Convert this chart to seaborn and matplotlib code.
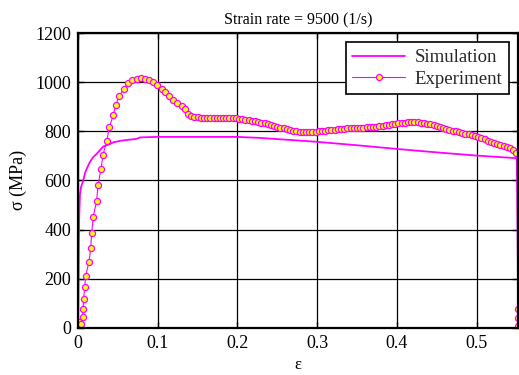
import matplotlib
matplotlib.use("Agg")
import matplotlib.pyplot as plt
import seaborn as sns
import pandas as pd

# ---- data ----
sim_strain = [0.0, 0.0005, 0.001, 0.0015, 0.0025, 0.004, 0.0067, 0.0088, 0.012, 0.015,
              0.0192, 0.0234, 0.0317, 0.040, 0.0443, 0.055, 0.0736, 0.078, 0.099, 0.15,
              0.2, 0.228, 0.2995, 0.35, 0.4, 0.45, 0.5, 0.552]
sim_stress = [0, 150, 350, 450, 545, 575, 600, 630, 655, 675,
              695, 708, 738, 748, 755, 762, 769, 775, 777, 777,
              777, 773, 757, 743, 728, 714, 701, 690]

exp_strain = [0.000, 0.001, 0.001, 0.002, 0.0038, 0.0059, 0.0062, 0.0071, 0.0084, 0.0096,
              0.0138, 0.0159, 0.0172, 0.0192, 0.0234, 0.0251, 0.0289, 0.0314, 0.036, 0.0393,
              0.0443, 0.0473, 0.0518, 0.0573, 0.0624, 0.0678, 0.0736, 0.079, 0.0845, 0.0895,
              0.0945, 0.0995, 0.105, 0.1095, 0.1146, 0.1196, 0.1246, 0.130, 0.1346,
              0.138, 0.142, 0.146, 0.150, 0.154, 0.158, 0.162, 0.166, 0.170, 0.174,
              0.178, 0.182, 0.186, 0.190, 0.194, 0.198, 0.202, 0.206, 0.210, 0.214,
              0.218, 0.222, 0.226, 0.230, 0.234, 0.238, 0.242, 0.246, 0.250, 0.254,
              0.258, 0.262, 0.266, 0.270, 0.274, 0.278, 0.282, 0.286, 0.290, 0.294,
              0.298, 0.302, 0.306, 0.310, 0.314, 0.318, 0.322, 0.326, 0.330, 0.334,
              0.338, 0.342, 0.346, 0.350, 0.354, 0.358, 0.362, 0.366, 0.370, 0.374,
              0.378, 0.382, 0.386, 0.390, 0.394, 0.398, 0.402, 0.406, 0.410, 0.414,
              0.418, 0.422, 0.426, 0.430, 0.434, 0.438, 0.442, 0.446, 0.450, 0.454,
              0.458, 0.462, 0.466, 0.470, 0.474, 0.478, 0.482, 0.486, 0.490, 0.494,
              0.498, 0.502, 0.506, 0.510, 0.514, 0.518, 0.522, 0.526, 0.530, 0.534,
              0.538, 0.542, 0.546, 0.550, 0.552, 0.552, 0.552]
exp_stress = [5, 15, 25, 10, 14, 45, 76, 118, 165, 211,
              269, 323, 387, 452, 518, 580, 648, 705, 760, 817,
              866, 907, 945, 971, 995, 1008, 1014, 1016, 1014, 1009,
              999, 987, 974, 959, 944, 929, 915, 902, 890,
              871, 864, 859, 856, 854, 853, 852, 852, 852, 852,
              852, 852, 852, 852, 852, 852, 851, 849, 847, 845,
              843, 840, 838, 835, 832, 829, 826, 822, 818, 815,
              812, 809, 806, 803, 800, 798, 797, 796, 795, 796,
              797, 799, 800, 802, 804, 805, 807, 808, 810, 811,
              812, 812, 813, 813, 814, 815, 816, 817, 818, 819,
              821, 823, 825, 827, 829, 831, 832, 834, 835, 836,
              836, 836, 836, 835, 833, 831, 829, 826, 823, 819,
              815, 810, 806, 802, 799, 796, 793, 790, 787, 783,
              779, 775, 771, 767, 762, 758, 753, 748, 744, 739,
              734, 730, 722, 712, 75, 41, 7]

x_ticks = [0, 0.1, 0.2, 0.3, 0.4, 0.5]
x_tick_labels = ["0", "0.1", "0.2", "0.3", "0.4", "0.5"]
y_ticks = [0, 200, 400, 600, 800, 1000, 1200]

sim_df = pd.DataFrame({"strain": sim_strain, "stress": sim_stress})
exp_df = pd.DataFrame({"strain": exp_strain, "stress": exp_stress})

sns.set_theme(style="white")
plt.rcParams["font.family"] = ["Liberation Serif", "DejaVu Serif"]
plt.rcParams["mathtext.fontset"] = "stix"

fig = plt.figure(figsize=(5.19, 3.75), dpi=100)
ax = fig.add_axes([0.1503, 0.126, 0.8478, 0.786])

sns.lineplot(data=sim_df, x="strain", y="stress", sort=False, estimator=None,
             color="#ff00ff", linewidth=1.3, label="Simulation", ax=ax)
sns.lineplot(data=exp_df, x="strain", y="stress", sort=False, estimator=None,
             color="#ff00ff", linewidth=0.8, marker="o", markersize=4.4,
             markerfacecolor="#ffff00", markeredgecolor="#ff00ff",
             markeredgewidth=0.9, label="Experiment", ax=ax)

ax.set_xlim(0, 0.552)
ax.set_ylim(0, 1200)
ax.set_xticks(x_ticks)
ax.set_xticklabels(x_tick_labels)
ax.set_yticks(y_ticks)
ax.grid(True, color="black", linewidth=0.9, linestyle="-")
ax.set_axisbelow(True)
for s in ax.spines.values():
    s.set_color("black")
    s.set_linewidth(1.6)
ax.tick_params(axis="both", direction="in", length=4, width=1, colors="black",
               labelsize=13, pad=5, top=True, right=True, bottom=True, left=True)
for lab in ax.get_xticklabels() + ax.get_yticklabels():
    lab.set_color("black")

ax.set_xlabel("ε", fontsize=12, color="black", labelpad=4)
ax.set_ylabel("σ (MPa)", fontsize=13, color="black", labelpad=6)
ax.set_title("Strain rate = 9500 (1/s)", fontsize=11.5, color="black", pad=6)

leg = ax.legend(loc="upper right", fontsize=13.5, frameon=True, fancybox=False,
                framealpha=1, edgecolor="black", handlelength=2.8,
                borderaxespad=0.5, borderpad=0.35, labelspacing=0.25, handletextpad=0.5)
leg.get_frame().set_linewidth(1.2)

fig.savefig("out.png", dpi=100)
